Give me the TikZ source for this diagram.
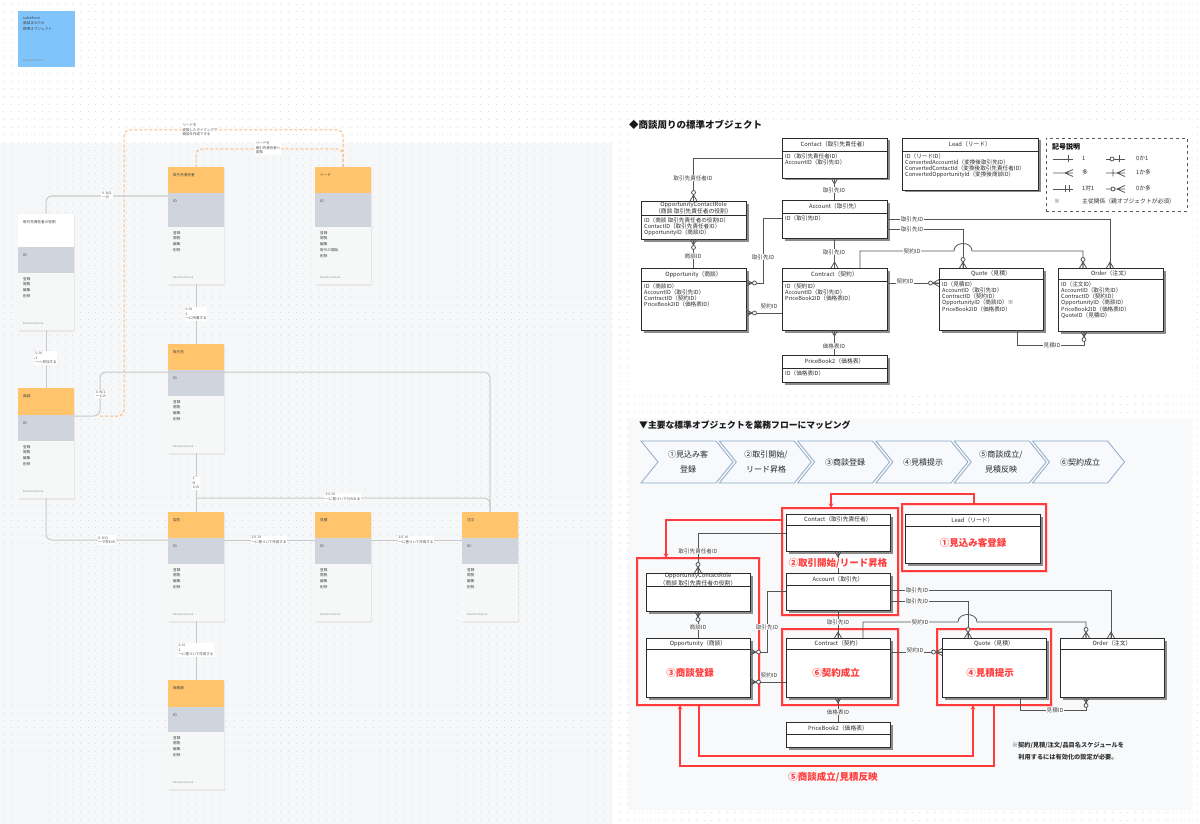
\documentclass[tikz,border=0pt]{standalone}
\usepackage{fontspec}
\setmainfont{Noto Sans CJK JP}
\usetikzlibrary{arrows.meta,calc}
\definecolor{orc}{HTML}{FFC46C}
\definecolor{grc}{HTML}{D0D5DD}
\definecolor{bdc}{HTML}{F6F7F7}
\definecolor{lnc}{HTML}{C9C9C9}
\definecolor{dsc}{HTML}{FFB97E}
\definecolor{dotc}{HTML}{DCDCDC}
\definecolor{bluec}{HTML}{80C4FC}
\definecolor{redc}{HTML}{FF3B3B}
\definecolor{chs}{HTML}{8EA9C8}
\definecolor{chf}{HTML}{F7F9FC}
\definecolor{erc}{HTML}{2B2B2B}
\definecolor{relc}{HTML}{555555}
\definecolor{panelc}{HTML}{F6F7F8}
\definecolor{pastec}{HTML}{F8F9FB}
\tikzset{
 cfU/.pic={\draw[rel] (-3.5,0) -- (0,-6) -- (3.5,0) (0,0) -- (0,-6);},
 cfD/.pic={\draw[rel] (-3.5,0) -- (0,6) -- (3.5,0) (0,0) -- (0,6);},
 cfoU/.pic={\draw[rel] (-3.5,0) -- (0,-6) -- (3.5,0) (0,0) -- (0,-6); \draw[rel,fill=white] (0,-8.5) circle[radius=2];},
 cfoD/.pic={\draw[rel] (-3.5,0) -- (0,6) -- (3.5,0) (0,0) -- (0,6); \draw[rel,fill=white] (0,8.5) circle[radius=2];},
 cfoR/.pic={\draw[rel] (0,-3.5) -- (6,0) -- (0,3.5) (0,0) -- (6,0); \draw[rel,fill=white] (8.5,0) circle[radius=2];},
 cfoL/.pic={\draw[rel] (0,-3.5) -- (-6,0) -- (0,3.5) (0,0) -- (-6,0); \draw[rel,fill=white] (-8.5,0) circle[radius=2];},
}
\newcommand\erbox[8]{%
 \fill[black!45] (#2+2.5,#3+2.5) rectangle (#4+2.5,#5+2.5);
 \node[erbx, anchor=north west, minimum width={(#4-#2)*1pt}, minimum height={(#5-#3)*1pt}] (#1) at (#2,#3) {};
 \draw[erc, line width=0.8pt] (#2,#6) -- (#4,#6);
 \node[erT] (#1t) at ({(#2+#4)/2},{(#3+#6)/2}) {#7};
 \node[erB] (#1b) at (#2+3,#6+2.5) {#8};
}
\newcommand\ucard[9]{%
 \fill[black!9] (#2+0.8,#3+1.2) rectangle (#2+57,#3+#4+#5+#6+1.8);
 \fill[#7] (#2,#3) rectangle (#2+56,#3+#4);
 \fill[grc] (#2,#3+#4) rectangle (#2+56,#3+#4+#5);
 \fill[bdc] (#2,#3+#4+#5) rectangle (#2+56,#3+#4+#5+#6);
 \node[anchor=north west, inner sep=0, outer sep=0, minimum width=56pt, minimum height={(#4+#5+#6)*1pt}] (#1) at (#2,#3) {};
 \node[ctxt, anchor=west] (#1t) at (#2+5,#3+8) {#8};
 \node[ctxt, anchor=west] (#1i) at (#2+5,#3+#4+8) {ID};
 \node[ctxt, anchor=north west, align=left] (#1b) at (#2+5,#3+#4+#5+4) {#9};
 \node[ftxt, anchor=west] (#1f) at (#2+5,#3+#4+#5+#6-7) {Kazuhiro Kimura};
}
\begin{document}
\begin{tikzpicture}[x=1pt,y=-1pt,
 ctxt/.style={font=\fontsize{3.6}{5.7}\selectfont, text=black!75, inner sep=0},
 ftxt/.style={font=\fontsize{2.6}{3}\selectfont, text=black!45, inner sep=0},
 llab/.style={fill=white, inner sep=0.8pt, font=\fontsize{3.5}{4.4}\selectfont, text=black!70, align=left},
 lc/.style={draw=lnc, line width=1pt, rounded corners=6pt},
 dl/.style={draw=dsc, line width=1pt, dash pattern=on 3pt off 2pt, rounded corners=6pt},
 erbx/.style={draw=erc, fill=white, line width=0.9pt, inner sep=0, outer sep=0},
 erT/.style={font=\fontsize{5.8}{5.6}\selectfont, text=erc, inner sep=0, align=center},
 erB/.style={font=\fontsize{5.6}{5.9}\selectfont, text=erc, inner sep=0, align=left, anchor=north west},
 rel/.style={draw=relc, line width=0.8pt},
 rlab/.style={fill=white, inner sep=0.6pt, font=\fontsize{5.6}{6}\selectfont, text=black!75},
 redbox/.style={draw=redc, line width=1.1pt, inner sep=0, outer sep=0, preaction={draw=redc!22, line width=3pt}},
 redarr/.style={draw=redc, line width=1.1pt, -{Stealth[length=4.5pt,width=4.5pt]}},
 rtxt/.style={text=redc, font=\bfseries\fontsize{9.5}{11}\selectfont, inner sep=0.5pt, fill=white},
 chev/.style={draw=chs, fill=chf, line width=0.8pt},
 chtxt/.style={font=\fontsize{8}{15.5}\selectfont, text=black!85, align=center, inner sep=0},
 lgt/.style={font=\fontsize{5.8}{6}\selectfont, text=black!80, inner sep=0, anchor=west}
]
\useasboundingbox (0,0) rectangle (1200,824);
% background
\fill[white] (0,0) rectangle (1200,824);
\fill[panelc] (0,143) rectangle (612,824);
\foreach \r in {0,...,107} {\draw[dotc, line width=0.8pt, dash pattern=on 0.8pt off 6.9pt] (3,{4+\r*7.7}) -- (1200,{4+\r*7.7});}
\fill[white] (628,120) rectangle (1192,392);
\fill[pastec] (628,418) rectangle (1192,810);

% top-left note
\node[fill=bluec, anchor=north west, minimum width=57pt, minimum height=56pt, inner sep=0] (note) at (18,11) {};
\node[anchor=north west, align=left, inner sep=0, font=\fontsize{3.6}{5.5}\selectfont, text=black!75] (notet) at (23,16) {salesforce\\商談まわりの\\標準オブジェクト};
\node[anchor=west, inner sep=0, font=\fontsize{2.6}{3}\selectfont, text=black!50] (notef) at (23,60) {Kazuhiro Kimura};

% ---------- left diagram ----------
\draw[dl] (343,167) |- (124,130) |- (100,416);
\draw[dl] (343,167) |- (196,149) -- (196,167);
\ucard{cA}{18}{214}{33}{26}{57}{white}{取引先責任者の役割}{登録\\閲覧\\編集\\削除}
\ucard{cB}{168}{167}{26}{34}{57}{orc}{取引先責任者}{登録\\閲覧\\編集\\削除}
\ucard{cC}{315}{167}{26}{34}{57}{orc}{リード}{登録\\閲覧\\編集\\取引の開始\\削除}
\ucard{cD}{168}{344}{26}{26}{57}{orc}{取引先}{登録\\閲覧\\編集\\削除}
\ucard{cE}{18}{388}{27}{26}{57}{orc}{商談}{登録\\閲覧\\編集\\削除}
\ucard{cF}{168}{512}{26}{26}{57}{orc}{契約}{登録\\閲覧\\編集\\削除}
\ucard{cG}{315}{512}{26}{26}{57}{orc}{見積}{登録\\閲覧\\編集\\削除}
\ucard{cH}{462}{512}{26}{26}{57}{orc}{注文}{登録\\閲覧\\編集\\削除}
\ucard{cI}{168}{680}{27}{25}{57}{orc}{価格表}{登録\\閲覧\\編集\\削除}
\draw[lc] (cA.north) |- (cB.west |- 0,196);
\draw[lc] (cB.south) -- (cD.north);
\draw[lc] (cA.south) -- (cE.north);
\draw[lc] (cE.east |- 0,416) -| (100,372) -| (cH.north);
\draw[lc] (cD.south) -- (cF.north);
\draw[lc] (cF.north |- 0,498) -| (cH.north);
\draw[lc] (cE.south) |- (cF.west |- 0,540);
\draw[lc] (cF.east |- 0,540) -- (cG.west |- 0,540);
\draw[lc] (cG.east |- 0,540) -- (cH.west |- 0,540);
\draw[lc] (cF.south) -- (cI.north);
\node[llab] (l1) at (107,195) {0..N/1\\〜の};
\node[llab] (l2) at (196,314) {0..N\\1\\〜に所属する};
\node[llab] (l3) at (46,358) {0..N\\1\\〜へ参加する};
\node[llab] (l4) at (101,394) {0..N/1\\〜との};
\node[llab] (l5) at (196,483) {1\\N\\との};
\node[llab] (l6) at (343,497) {1:0..N\\〜に基づいて行われる};
\node[llab] (l7) at (107,540) {0..N/1\\〜で失われ};
\node[llab] (l8) at (269,540) {1:0..N\\〜に基づいて作成する};
\node[llab] (l9) at (416,540) {1:0..N\\〜に基づいて作成する};
\node[llab] (l10) at (196,650) {0..N\\1\\〜に基づいて作成する};
\node[llab] (l11) at (200,130) {リードを\\変換したタイミングで\\商談を作成できる};
\node[llab] (l12) at (268,148) {リードを\\取引先責任者へ\\変換};

% ---------- top right ER ----------
\node[anchor=west, inner sep=0, font=\bfseries\fontsize{9.5}{11}\selectfont, text=black!90] (ttl1) at (629,125) {◆商談周りの標準オブジェクト};
\erbox{tcon}{782}{138}{887}{178}{151}{Contact（取引先責任者）}{ID（取引先責任者ID）\\AccountID（取引先ID）}
\erbox{tacc}{782}{200}{887}{238}{213}{Account（取引先）}{ID（取引先ID）}
\erbox{tocr}{641}{201}{746}{239}{215}{OpportunityContactRole\\（商談 取引先責任者の役割）}{ID（商談 取引先責任者の役割ID）\\ContactID（取引先責任者ID）\\OpportunityID（商談ID）}
\erbox{topp}{641}{268}{746}{330}{281}{Opportunity（商談）}{ID（商談ID）\\AccountID（取引先ID）\\ContractID（契約ID）\\PriceBook2ID（価格表ID）}
\erbox{tctr}{782}{268}{887}{330}{281}{Contract（契約）}{ID（契約ID）\\AccountID（取引先ID）\\PriceBook2ID（価格表ID）}
\erbox{tpb}{782}{355}{887}{382}{368}{PriceBook2（価格表）}{ID（価格表ID）}
\erbox{tlead}{902}{138}{1038}{190}{151}{Lead（リード）}{ID（リードID）\\ConvertedAccountId（変換後取引先ID）\\ConvertedContactId（変換後取引先責任者ID）\\ConvertedOpportunityId（変換後商談ID）}
\erbox{tquo}{939}{268}{1043}{330}{279}{Quote（見積）}{ID（見積ID）\\AccountID（取引先ID）\\ContractID（契約ID）\\OpportunityID（商談ID）※\\PriceBook2ID（価格表ID）}
\erbox{tord}{1058}{268}{1163}{331}{279}{Order（注文）}{ID（注文ID）\\AccountID（取引先ID）\\ContractID（契約ID）\\OpportunityID（商談ID）\\PriceBook2ID（価格表ID）\\QuoteID（見積ID）}
\draw[rel] (tcon.west |- 0,158) -| (tocr.north);
\draw[rel] (tcon.south) -- (tacc.north);
\draw[rel] (tocr.south) -- (topp.north);
\draw[rel] (tacc.west |- 0,218) -| (763,283) -- (topp.east |- 0,283);
\draw[rel] (tctr.west |- 0,313) -- (topp.east |- 0,313);
\draw[rel] (tacc.south) -- (tctr.north);
\draw[rel] (tctr.south) -- (tpb.north);
\draw[rel] (tacc.east |- 0,219) -| (tord.north -| 1110,0);
\draw[rel] (tacc.east |- 0,229) -| (tquo.north -| 963,0);
\draw[rel] (tctr.north -| 860,0) |- (954,251) .. controls (954,241) and (972,241) .. (972,251) -| (tord.north -| 1083,0);
\draw[rel] (tctr.east |- 0,283) -- (tquo.west |- 0,283);
\draw[rel] (tquo.south -| 1017,0) |- (1084,345) -- (tord.south -| 1084,0);
\pic at (tocr.north) {cfoU};
\pic at (tcon.south) {cfD};
\pic at (tocr.south) {cfoD};
\pic at (topp.east |- 0,283) {cfoR};
\pic at (topp.east |- 0,313) {cfoR};
\pic at (tctr.north) {cfU};
\pic at (tctr.south) {cfD};
\pic at (tord.north -| 1110,0) {cfU};
\pic at (tquo.north -| 963,0) {cfoU};
\pic at (tord.north -| 1083,0) {cfoU};
\pic at (tquo.west |- 0,283) {cfoL};
\pic at (tord.south -| 1084,0) {cfoD};
\node[rlab] (ta1) at (693,178) {取引先責任者ID};
\node[rlab] (ta2) at (834,190) {取引先ID};
\node[rlab] (ta3) at (693,256) {商談ID};
\node[rlab] (ta4) at (763,257) {取引先ID};
\node[rlab] (ta5) at (769,306) {契約ID};
\node[rlab] (ta6) at (834,252) {取引先ID};
\node[rlab] (ta7) at (834,346) {価格表ID};
\node[rlab] (ta8) at (912,219) {取引先ID};
\node[rlab] (ta9) at (912,229) {取引先ID};
\node[rlab] (ta10) at (912,251) {契約ID};
\node[rlab] (ta11) at (905,281) {契約ID};
\node[rlab] (ta12) at (1052,345) {見積ID};
% legend
\node[draw=black!65, dashed, line width=0.8pt, anchor=north west, minimum width=141pt, minimum height=73pt, inner sep=0] (lgd) at (1046,138) {};
\node[anchor=west, inner sep=0, font=\bfseries\fontsize{7}{8}\selectfont] (lgdt) at (1052,147) {記号説明};
\draw[rel] (1053,159) -- (1073,159) (1068,155.5) -- (1068,162.5);
\node[lgt] (lg1) at (1082,158) {1};
\draw[rel] (1106,159) -- (1125,159) (1119,155.5) -- (1119,162.5);
\draw[rel,fill=white] (1112,159) circle[radius=2];
\node[lgt] (lg2) at (1136,158) {0か1};
\draw[rel] (1053,173) -- (1073,173) (1073,169.5) -- (1065,173) -- (1073,176.5);
\node[lgt] (lg3) at (1082,172) {多};
\draw[rel] (1106,173) -- (1125,173) (1113,169.5) -- (1113,176.5) (1125,169.5) -- (1117,173) -- (1125,176.5);
\node[lgt] (lg4) at (1136,172) {1か多};
\draw[rel] (1053,189) -- (1073,189) (1065,185.5) -- (1065,192.5) (1069,185.5) -- (1069,192.5);
\node[lgt] (lg5) at (1082,188) {1対1};
\draw[rel] (1106,189) -- (1125,189) (1125,185.5) -- (1117,189) -- (1125,192.5);
\draw[rel,fill=white] (1113,189) circle[radius=2];
\node[lgt] (lg6) at (1136,188) {0か多};
\node[lgt] (lg7) at (1054,201) {※};
\node[lgt] (lg8) at (1082,201) {主従関係（親オブジェクトが必須）};

% ---------- bottom right flow ----------
\node[anchor=west, inner sep=0, font=\bfseries\fontsize{8.8}{10}\selectfont, text=black!90] (ttl2) at (639,425) {▼主要な標準オブジェクトを業務フローにマッピング};
\foreach \i in {0,...,5} {
 \pgfmathsetmacro\L{641+78.3*\i}
 \draw[chev] (\L,441) -- (\L+75,441) -- (\L+92,462) -- (\L+75,483) -- (\L,483) -- (\L+17,462) -- cycle;
}
\node[chtxt] (ch1) at (688,462) {①見込み客\\登録};
\node[chtxt] (ch2) at (766,462) {②取引開始/\\リード昇格};
\node[chtxt] (ch3) at (845,462) {③商談登録};
\node[chtxt] (ch4) at (923,462) {④見積提示};
\node[chtxt] (ch5) at (1001,462) {⑤商談成立/\\見積反映};
\node[chtxt] (ch6) at (1080,462) {⑥契約成立};
\node[redbox, anchor=north west, minimum width=144pt, minimum height=67pt] (r1) at (902,504) {};
\node[redbox, anchor=north west, minimum width=116pt, minimum height=107pt] (r2) at (782,508) {};
\node[redbox, anchor=north west, minimum width=122pt, minimum height=147pt] (r3) at (637,558) {};
\node[redbox, anchor=north west, minimum width=116pt, minimum height=76pt] (r6) at (782,629) {};
\node[redbox, anchor=north west, minimum width=114pt, minimum height=76pt] (r4) at (937,629) {};
\erbox{bcon}{786}{514}{890}{551}{525}{Contact（取引先責任者）}{}
\erbox{bacc}{786}{573}{890}{610}{585}{Account（取引先）}{}
\erbox{bocr}{646}{573}{750}{611}{586}{OpportunityContactRole\\（商談 取引先責任者の役割）}{}
\erbox{bopp}{646}{638}{750}{697}{649}{Opportunity（商談）}{}
\erbox{bctr}{786}{638}{890}{697}{649}{Contract（契約）}{}
\erbox{bpb}{786}{722}{890}{747}{734}{PriceBook2（価格表）}{}
\erbox{blead}{905}{514}{1040}{563}{526}{Lead（リード）}{}
\erbox{bquo}{942}{638}{1046}{697}{649}{Quote（見積）}{}
\erbox{bord}{1060}{638}{1164}{697}{649}{Order（注文）}{}
\draw[rel] (bcon.west |- 0,533) -| (bocr.north);
\draw[rel] (bcon.south) -- (bacc.north);
\draw[rel] (bocr.south) -- (bopp.north);
\draw[rel] (bacc.west |- 0,591) -| (767,652) -- (bopp.east |- 0,652);
\draw[rel] (bctr.west |- 0,682) -- (bopp.east |- 0,682);
\draw[rel] (bacc.south) -- (bctr.north);
\draw[rel] (bctr.south) -- (bpb.north);
\draw[rel] (bacc.east |- 0,590) -| (bord.north -| 1111,0);
\draw[rel] (bacc.east |- 0,601) -| (bquo.north -| 968,0);
\draw[rel] (bctr.north -| 863,0) |- (958,622) .. controls (958,612) and (977,612) .. (977,622) -| (bord.north -| 1086,0);
\draw[rel] (bctr.east |- 0,652) -- (bquo.west |- 0,652);
\draw[rel] (bquo.south -| 1020,0) |- (1086,710) -- (bord.south -| 1086,0);
\pic at (bocr.north) {cfoU};
\pic at (bcon.south) {cfD};
\pic at (bocr.south) {cfoD};
\pic at (bopp.east |- 0,652) {cfoR};
\pic at (bopp.east |- 0,682) {cfoR};
\pic at (bctr.north) {cfU};
\pic at (bctr.south) {cfD};
\pic at (bord.north -| 1111,0) {cfU};
\pic at (bquo.north -| 968,0) {cfoU};
\pic at (bord.north -| 1086,0) {cfoU};
\pic at (bquo.west |- 0,652) {cfoL};
\pic at (bord.south -| 1086,0) {cfoD};
\node[rlab] (ba1) at (698,551) {取引先責任者ID};
\node[rlab] (ba3) at (698,627) {商談ID};
\node[rlab] (ba4) at (767,627) {取引先ID};
\node[rlab] (ba5) at (769,675) {契約ID};
\node[rlab] (ba6) at (838,622) {取引先ID};
\node[rlab] (ba7) at (838,712) {価格表ID};
\node[rlab] (ba8) at (917,590) {取引先ID};
\node[rlab] (ba9) at (917,601) {取引先ID};
\node[rlab] (ba10) at (920,622) {契約ID};
\node[rlab] (ba11) at (915,650) {契約ID};
\node[rlab] (ba12) at (1055,710) {見積ID};
\draw[redarr] (r1.north -| 974,0) |- (831,494) -- (r2.north -| 831,0);
\draw[redarr] (r2.west |- 0,520) -| (r3.north -| 666,0);
\draw[redarr] (r3.south -| 699,0) |- (973,756) -- (r4.south -| 973,0);
\draw[redarr] (r4.south -| 994,0) |- (680,766) -- (r3.south -| 680,0);
\node[rtxt] (rl1) at (973,543) {①見込み客登録};
\node[rtxt] (rl2) at (838,563) {②取引開始/リード昇格};
\node[rtxt] (rl3) at (690,673) {③商談登録};
\node[rtxt] (rl6) at (836,673) {⑥契約成立};
\node[rtxt] (rl4) at (990,673) {④見積提示};
\node[rtxt, fill=pastec] (rl5) at (833,777) {⑤商談成立/見積反映};
\node[align=center, inner sep=0, font=\bfseries\fontsize{6.2}{12}\selectfont, text=black!80] (fn) at (1068,751) {※契約/見積/注文/品目名スケジュールを\\利用するには有効化の設定が必要。};
\end{tikzpicture}
\end{document}
